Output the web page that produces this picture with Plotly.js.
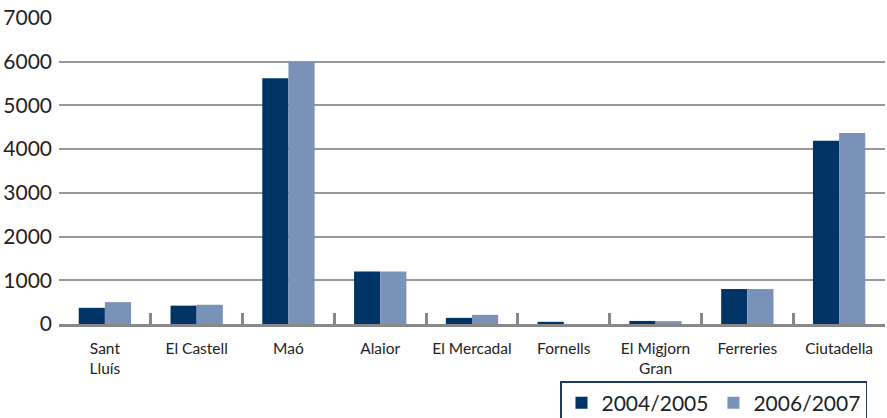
<!DOCTYPE html>
<html>
<head>
<meta charset="utf-8">
<script src="https://cdn.plot.ly/plotly-3.0.1.min.js"></script>
<style>
  html, body { margin: 0; padding: 0; background: #fff; }
  #chart { width: 887px; height: 418px; }
</style>
</head>
<body>
<div id="chart"></div>
<script>
// Municipalities of Menorca
const municipalities = ['Sant<br>Lluís', 'El Castell', 'Maó', 'Alaior', 'El Mercadal',
  'Fornells', 'El Migjorn<br>Gran', 'Ferreries', 'Ciutadella'];

// values
const values2004 = [370, 420, 5620, 1200, 140, 50, 70, 800, 4190];
const values2006 = [500, 440, 6000, 1200, 210, 0, 65, 800, 4370];

const yTicks = [0, 1000, 2000, 3000, 4000, 5000, 6000, 7000];

const traces = [
  {
    x: municipalities, y: values2004, name: '2004/2005', type: 'bar',
    marker: { color: '#003366' }
  },
  {
    x: municipalities, y: values2006, name: '2006/2007', type: 'bar',
    marker: { color: '#7B92B8' }
  }
];

const layout = {
  width: 887,
  height: 418,
  margin: { l: 59, r: 2, t: 18, b: 94 },
  paper_bgcolor: '#fff',
  plot_bgcolor: '#fff',
  font: { family: 'Lato, "Open Sans", sans-serif', color: '#222' },
  barmode: 'group',
  bargap: 0.43,
  bargroupgap: 0,
  showlegend: true,
  legend: {
    orientation: 'h',
    xref: 'container', yref: 'container',
    x: 560 / 887, xanchor: 'left',
    y: 37 / 418, yanchor: 'top',
    bordercolor: '#1F3A5F', borderwidth: 1.5,
    font: { size: 21, color: '#222' },
    tracegroupgap: 0,
    itemwidth: 30
  },
  xaxis: {
    type: 'category',
    tickson: 'boundaries',
    tickangle: 0,
    ticks: 'inside', ticklen: 11, tickwidth: 3, tickcolor: '#888',
    showline: true, linecolor: '#888', linewidth: 3,
    tickfont: { size: 15.5, color: '#222' },
    ticklabelstandoff: 8,
    showgrid: false
  },
  yaxis: {
    range: [0, 7000],
    tickvals: yTicks,
    tickfont: { size: 21, color: '#222' },
    gridcolor: '#999', gridwidth: 2,
    zeroline: false,
    showline: false,
    ticks: '',
    ticklabelstandoff: 6
  }
};

Plotly.newPlot('chart', traces, layout, { displayModeBar: false, staticPlot: true });
</script>
</body>
</html>
